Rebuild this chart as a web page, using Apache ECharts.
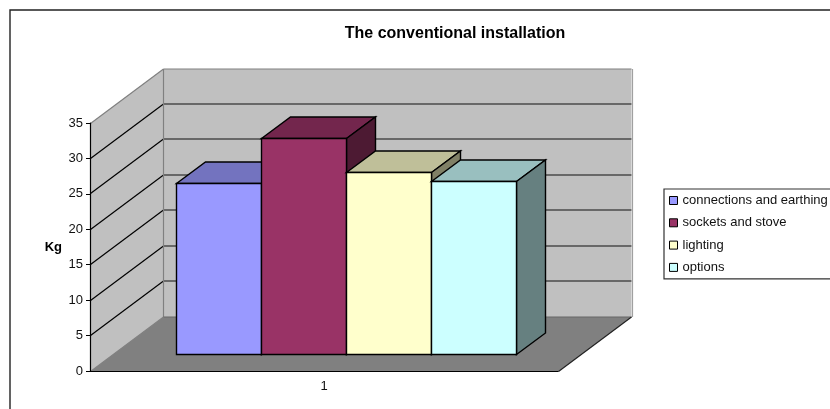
<!DOCTYPE html>
<html>
<head>
<meta charset="utf-8">
<style>html,body{margin:0;padding:0;background:#fff}#chart{width:830px;height:409px}</style>
<script src="https://cdn.jsdelivr.net/npm/echarts@6/dist/echarts.min.js"></script>
</head>
<body>
<div id="chart"></div>
<script>
// Mass of each part of the conventional installation, in kg
const categories = ['1'];
const seriesNames = ['connections and earthing', 'sockets and stove', 'lighting', 'options'];
const connections = [24];
const sockets = [30.4];
const lighting = [25.6];
const options = [24.3];
const seriesValues = [connections, sockets, lighting, options];
const yTicks = [0, 5, 10, 15, 20, 25, 30, 35];

// front, top and side shades of each column
const faceColors = ['#9999FF', '#993366', '#FFFFCC', '#CCFFFF'];
const topColors = ['#7373BF', '#73264D', '#BFBF99', '#99BFBF'];
const sideColors = ['#4D4D80', '#4D1A33', '#808066', '#668080'];

// oblique projection of the chart's depth, in pixels
const wallDepth = [73, -54.5];
const barOffset = [22.3, -17];
const barDepth = [29, -21.5];
const gapRatio = 0.75;

const crisp = v => Math.round(v - 0.5) + 0.5;
const line = (x1, y1, x2, y2, stroke, width) => ({
  type: 'line', shape: { x1, y1, x2, y2 }, style: { stroke, lineWidth: width || 1.2 }
});
const poly = (points, fill, stroke) => ({
  type: 'polygon', shape: { points }, style: { fill, stroke: stroke || null, lineWidth: 1.4 }
});

// back wall, side wall, floor and their gridlines
function renderWalls(params, api) {
  const band = api.size([1, 0])[0];
  const centre = api.coord([0, 0]);
  const x0 = crisp(centre[0] - band / 2);
  const x1 = crisp(centre[0] + band / 2);
  const y0 = crisp(centre[1]);
  const yMax = crisp(api.coord([0, yTicks[yTicks.length - 1]])[1]);
  const dx = wallDepth[0], dy = wallDepth[1];
  const children = [
    poly([[x0 + dx, y0 + dy], [x1 + dx, y0 + dy], [x1 + dx, yMax + dy], [x0 + dx, yMax + dy]], '#C0C0C0'),
    poly([[x0, y0], [x0 + dx, y0 + dy], [x0 + dx, yMax + dy], [x0, yMax]], '#C0C0C0'),
    poly([[x0, y0], [x1, y0], [x1 + dx, y0 + dy], [x0 + dx, y0 + dy]], '#808080')
  ];
  yTicks.slice(1, -1).forEach(t => {
    const y = crisp(api.coord([0, t])[1]);
    children.push(line(x0, y, x0 + dx, y + dy, '#000'));
    children.push(line(x0 + dx, y + dy, x1 + dx, y + dy, '#111'));
  });
  children.push(
    line(x0 + dx, yMax + dy, x1 + dx, yMax + dy, '#808080'),
    line(x0, yMax, x0 + dx, yMax + dy, '#808080'),
    line(x0 + dx, yMax + dy, x0 + dx, y0 + dy, '#808080'),
    line(x1 + dx + 1, yMax + dy, x1 + dx + 1, y0 + dy, '#A0A0A0'),
    line(x0, y0, x0 + dx, y0 + dy, '#808080'),
    line(x0 + dx, y0 + dy, x1 + dx, y0 + dy, '#666'),
    line(x1, y0, x1 + dx, y0 + dy, '#222')
  );
  return { type: 'group', children };
}

// one column: front face, top face and right face
function renderColumn(index) {
  return function (params, api) {
    const band = api.size([1, 0])[0];
    const bw = band / (seriesValues.length + 2 * gapRatio);
    const left = api.coord([api.value(0), 0])[0] - band / 2 + bw * (gapRatio + index) + barOffset[0];
    const xa = crisp(left), xb = crisp(left + bw);
    const yb = crisp(api.coord([0, 0])[1] + barOffset[1]);
    const yt = crisp(api.coord([0, api.value(1)])[1] + barOffset[1]);
    const dx = barDepth[0], dy = barDepth[1];
    return {
      type: 'group',
      children: [
        poly([[xa, yt], [xb, yt], [xb + dx, yt + dy], [xa + dx, yt + dy]], topColors[index], '#000'),
        poly([[xb, yb], [xb + dx, yb + dy], [xb + dx, yt + dy], [xb, yt]], sideColors[index], '#000'),
        poly([[xa, yb], [xb, yb], [xb, yt], [xa, yt]], faceColors[index], '#000')
      ]
    };
  };
}

const axisFont = { color: '#111', fontFamily: 'Liberation Sans', fontSize: 13 };

const chart = echarts.init(document.getElementById('chart'), null, { renderer: 'canvas' });
chart.setOption({
  animation: false,
  backgroundColor: '#fff',
  title: {
    text: 'The conventional installation',
    left: 455, top: 26, textAlign: 'center', padding: 0,
    textStyle: { color: '#000', fontFamily: 'Liberation Sans', fontSize: 16, fontWeight: 'bold' }
  },
  graphic: [{
    type: 'rect', silent: true, z: -1,
    shape: { x: 10, y: 10, width: 900, height: 500 },
    style: { fill: 'none', stroke: '#222', lineWidth: 1.4 }
  }],
  legend: {
    left: 664, top: 189, orient: 'vertical', padding: [5, 6, 5, 5],
    backgroundColor: '#fff', borderColor: '#333', borderWidth: 1.2, borderRadius: 0,
    itemWidth: 8, itemHeight: 8, itemGap: 9.3, icon: 'rect',
    textStyle: Object.assign({ lineHeight: 13 }, axisFont),
    data: seriesNames.map((name, i) => ({
      name, itemStyle: { color: faceColors[i], borderColor: '#000', borderWidth: 1 }
    }))
  },
  grid: { left: 90, right: 272, top: 123, bottom: 38 },
  xAxis: {
    type: 'category', data: categories, z: 10,
    axisLine: { lineStyle: { color: '#000', width: 1.2 } },
    axisTick: { length: 4, lineStyle: { color: '#000' } },
    axisLabel: Object.assign({ margin: 9 }, axisFont)
  },
  yAxis: {
    type: 'value', min: yTicks[0], max: yTicks[yTicks.length - 1], interval: 5, z: 10,
    name: 'Kg', nameLocation: 'middle', nameGap: 28, nameRotate: 0,
    nameTextStyle: { color: '#000', fontFamily: 'Liberation Sans', fontSize: 13, fontWeight: 'bold' },
    splitLine: { show: false },
    axisLine: { show: true, lineStyle: { color: '#000', width: 1.2 } },
    axisTick: { show: true, length: 4, lineStyle: { color: '#000' } },
    axisLabel: Object.assign({ margin: 7 }, axisFont)
  },
  series: [{
    type: 'custom', name: 'chart walls', silent: true, clip: false,
    data: [[0, yTicks[yTicks.length - 1]]],
    renderItem: renderWalls
  }].concat(seriesNames.map((name, i) => ({
    type: 'custom', name, silent: true, clip: false,
    itemStyle: { color: faceColors[i], borderColor: '#000' },
    encode: { x: 0, y: 1 },
    data: seriesValues[i].map((v, c) => [c, v]),
    renderItem: renderColumn(i)
  })))
});
</script>
</body>
</html>
